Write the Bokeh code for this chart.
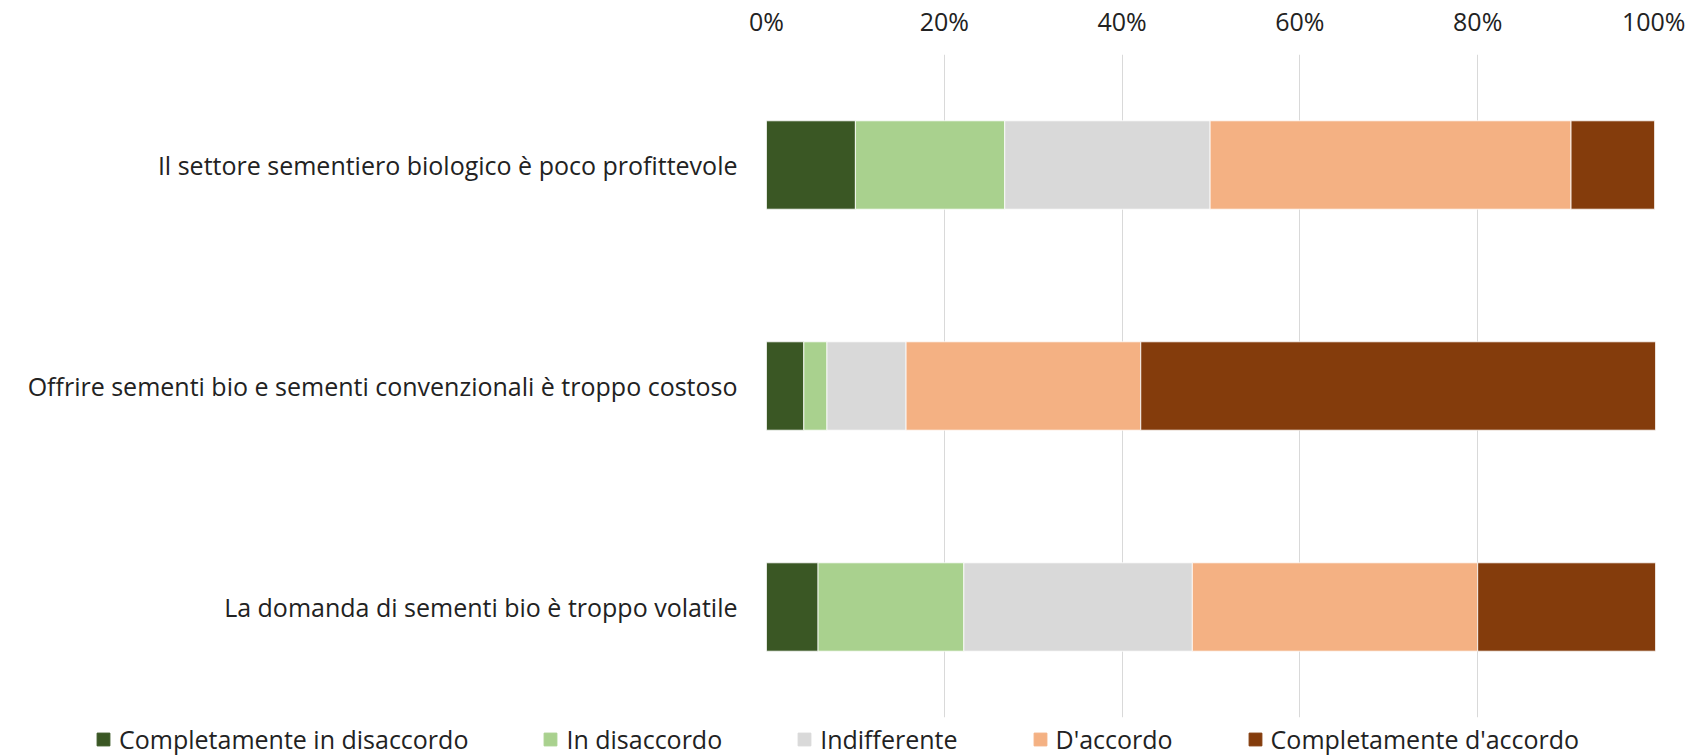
from bokeh.plotting import figure
from bokeh.layouts import column
from bokeh.models import ColumnDataSource, FactorRange, Range1d, FixedTicker, NumeralTickFormatter, Legend, LegendItem
from bokeh.embed import file_html
from bokeh.resources import INLINE

categories = [
    "La domanda di sementi bio è troppo volatile",
    "Offrire sementi bio e sementi convenzionali è troppo costoso",
    "Il settore sementiero biologico è poco profittevole",
]
series_names = [
    "Completamente in disaccordo",
    "In disaccordo",
    "Indifferente",
    "D'accordo",
    "Completamente d'accordo",
]
completamente_in_disaccordo = [5.8, 4.2, 10.0]
in_disaccordo = [16.4, 2.6, 16.8]
indifferente = [25.7, 8.9, 23.1]
d_accordo = [32.1, 26.4, 40.6]
completamente_d_accordo = [20.0, 57.9, 9.4]
tick_values = [0, 20, 40, 60, 80, 100]

colors = ["#3A5724", "#A9D18E", "#D9D9D9", "#F4B183", "#843C0C"]
FONT = "Open Sans"
FS = "25px"
TXT = "#222222"

keys = ["s0", "s1", "s2", "s3", "s4"]
series = [completamente_in_disaccordo, in_disaccordo, indifferente, d_accordo, completamente_d_accordo]
data = {"cat": categories}
for k, s in zip(keys, series):
    data[k] = [v / 100.0 for v in s]
source = ColumnDataSource(data)

p = figure(
    width=1685, height=719,
    y_range=FactorRange(factors=categories, range_padding=0),
    x_range=Range1d(0, 1),
    x_axis_location="above",
    output_backend="svg", toolbar_location=None,
    min_border_left=766, min_border_right=30, min_border_top=52, min_border_bottom=2,
)
p.outline_line_color = None
p.background_fill_color = "white"

p.hbar_stack(keys, y="cat", height=0.4, color=colors, source=source,
             line_color="white", line_width=0.8)

p.xaxis.ticker = FixedTicker(ticks=[t / 100.0 for t in tick_values])
p.xaxis.formatter = NumeralTickFormatter(format="0%")
p.xaxis.axis_line_color = None
p.xaxis.major_tick_line_color = None
p.xaxis.minor_tick_line_color = None
p.xaxis.major_tick_out = 0
p.xaxis.major_tick_in = 0
p.xaxis.major_label_standoff = 17
p.xaxis.major_label_text_font = FONT
p.xaxis.major_label_text_font_size = FS
p.xaxis.major_label_text_color = TXT

p.yaxis.axis_line_color = None
p.yaxis.major_tick_line_color = None
p.yaxis.minor_tick_line_color = None
p.yaxis.major_tick_out = 0
p.yaxis.major_tick_in = 0
p.yaxis.major_label_standoff = 29
p.yaxis.major_label_text_font = FONT
p.yaxis.major_label_text_font_size = FS
p.yaxis.major_label_text_color = TXT

p.xgrid.grid_line_color = "#D9D9D9"
p.xgrid.grid_line_width = 1
p.ygrid.grid_line_color = None

# legend strip below the chart
lg = figure(
    width=1685, height=37,
    x_range=Range1d(0, 1), y_range=Range1d(0, 1),
    x_axis_type=None, y_axis_type=None,
    output_backend="svg", toolbar_location=None,
    min_border=0,
)
lg.outline_line_color = None
lg.xgrid.visible = False
lg.ygrid.visible = False
dummies = [lg.rect(x=[-10], y=[-10], width=1, height=1, color=c) for c in colors]

legend = Legend(
    items=[LegendItem(label=n, renderers=[r]) for n, r in zip(series_names, dummies)],
    orientation="horizontal",
    location=(95, 0),
    padding=0, margin=0, spacing=74,
    glyph_width=16, glyph_height=16, label_standoff=8, label_height=16,
    label_text_font=FONT, label_text_font_size=FS, label_text_color=TXT,
    border_line_color=None, background_fill_alpha=0,
)
lg.add_layout(legend, "center")

layout = column(p, column(lg, spacing=0), spacing=0)
open("out.html", "w").write(file_html(layout, INLINE))
